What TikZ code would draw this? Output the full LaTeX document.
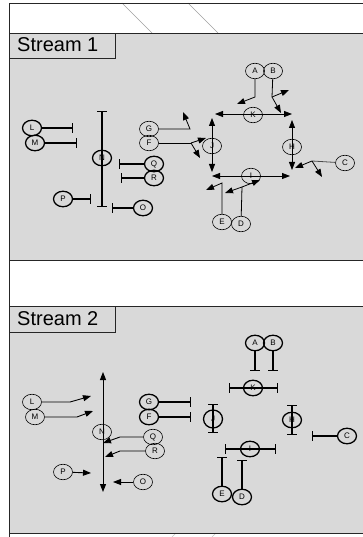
\documentclass[tikz,border=0pt]{standalone}
\usepackage{fontspec}
\setmainfont{Liberation Sans}
\usetikzlibrary{shapes.geometric,arrows.meta}
\definecolor{panel}{HTML}{D9D9D9}
\definecolor{faint}{HTML}{A0A0A0}
\begin{document}
\begin{tikzpicture}[x=1pt,y=-1pt,
 nd/.style={ellipse,draw,minimum width=19pt,minimum height=15.5pt,inner sep=0pt,font=\fontsize{8}{9}\selectfont,line width=0.6pt},
 ndb/.style={nd,line width=1.3pt},
 act/.style={line width=0.8pt,-{Triangle[length=8pt,width=6pt]}},
 thinline/.style={line width=0.8pt},
 dact/.style={line width=0.8pt,{Triangle[length=8pt,width=6pt]}-{Triangle[length=8pt,width=6pt]}},
 inh/.style={line width=1.3pt,-{Bar[width=9.5pt]}},
 dinh/.style={line width=1.3pt,{Bar[width=9.5pt]}-{Bar[width=9.5pt]}},
 frameline/.style={line width=0.9pt,black!85},
 lbl/.style={font=\fontsize{20}{22}\selectfont,anchor=base west,inner sep=0pt}
]
\useasboundingbox (0,0) rectangle (363,537);
% panels
\fill[white] (0,0) rectangle (363,537);
\fill[panel] (9,33) rectangle (363,260);
\fill[panel] (9,306) rectangle (363,533);
\draw[faint,line width=0.6pt] (122,3) -- (152,33);
\draw[faint,line width=0.6pt] (188,3) -- (218,33);
\draw[faint!60,line width=0.5pt] (172,537) -- (176,533);
\draw[faint!60,line width=0.5pt] (212,537) -- (216,533);
\draw[frameline] (363,3) -- (9,3) -- (9,537);
\draw[frameline] (9,33) -- (363,33);
\draw[frameline] (9,260) -- (363,260);
\draw[frameline] (9,306) -- (363,306);
\draw[frameline] (9,533) -- (363,533);
\draw[frameline] (9,33) rectangle (115,58);
\draw[frameline] (9,306) rectangle (115,332);
\node[lbl] (s1) at (17,51.5) {Stream 1};
\node[lbl] (s2) at (17,325) {Stream 2};

% ---------------- Stream 1 ----------------
\node[nd] (A1) at (255,71) {A};
\node[nd] (B1) at (273,71) {B};
\node[nd] (K1) at (253,115) {K};
\node[nd] (J1) at (212,146) {J};
\node[nd] (H1) at (292,147) {H};
\node[nd] (C1) at (345,163) {C};
\node[nd] (I1) at (251,176) {I};
\node[nd] (E1) at (222,222) {E};
\node[nd] (D1) at (241,224) {D};
\node[nd] (G1) at (149,129) {G};
\node[nd] (F1) at (149,143) {F};
\node[ndb] (L1) at (32,128) {L};
\node[ndb] (M1) at (35,143) {M};
\node[ndb] (N1) at (102,158) {N};
\node[ndb] (Q1) at (154,164) {Q};
\node[ndb] (R1) at (154,178) {R};
\node[ndb] (P1) at (63,199) {P};
\node[ndb] (O1) at (143,208) {O};

\coordinate (l1b) at (73,128);
\coordinate (m1b) at (77,143);
\coordinate (n1t) at (102,111);
\coordinate (n1b) at (102,207);
\coordinate (q1b) at (119,164);
\coordinate (r1b) at (121,178);
\coordinate (p1b) at (91,199);
\coordinate (o1b) at (112,208);
\draw[inh] (L1) -- (l1b);
\draw[inh] (M1) -- (m1b);
\draw[dinh] (n1t) -- (n1b);
\draw[inh] (Q1) -- (q1b);
\draw[inh] (R1) -- (r1b);
\draw[inh] (P1) -- (p1b);
\draw[inh] (O1) -- (o1b);

\coordinate (g1j) at (190,129);
\coordinate (g1t) at (183,112);
\draw[act] (G1) -- (g1j) -- (g1t);
\coordinate (f1j) at (191,143);
\coordinate (f1t1) at (206,138);
\coordinate (f1t2) at (200,158);
\draw[thinline] (F1) -- (f1j);
\draw[act] (f1j) -- (f1t1);
\draw[act] (f1j) -- (f1t2);

\coordinate (j1t) at (212,118);
\coordinate (j1b) at (212,172);
\draw[dact] (j1t) -- (j1b);
\coordinate (k1l) at (215,114);
\coordinate (k1r) at (292,114);
\draw[dact] (k1l) -- (k1r);
\coordinate (h1t) at (292,120);
\coordinate (h1b) at (292,170);
\draw[dact] (h1t) -- (h1b);
\coordinate (i1l) at (212,176);
\coordinate (i1r) at (290,176);
\draw[dact] (i1l) -- (i1r);

\coordinate (a1j) at (255,97);
\coordinate (a1t) at (237,104);
\draw[act] (A1) -- (a1j) -- (a1t);
\coordinate (b1j) at (272,97);
\coordinate (b1t1) at (289,90);
\coordinate (b1t2) at (281,113);
\draw[thinline] (B1) -- (b1j);
\draw[act] (b1j) -- (b1t1);
\draw[act] (b1j) -- (b1t2);
\coordinate (c1j) at (312,161);
\coordinate (c1t1) at (295,168);
\coordinate (c1t2) at (322,177);
\draw[thinline,black!70] (C1) -- (c1j);
\draw[act] (c1j) -- (c1t1);
\draw[act] (c1j) -- (c1t2);
\coordinate (e1j) at (222,183);
\coordinate (e1t) at (206,190);
\draw[act] (E1) -- (e1j) -- (e1t);
\coordinate (d1j) at (242,187);
\coordinate (d1t1) at (225,193);
\coordinate (d1t2) at (260,180);
\draw[thinline] (D1) -- (d1j);
\draw[act] (d1j) -- (d1t1);
\draw[act] (d1j) -- (d1t2);

% ---------------- Stream 2 ----------------
\node[ndb] (A2) at (255,343) {A};
\node[ndb] (B2) at (273,343) {B};
\node[ndb] (K2) at (253,388) {K};
\node[ndb,minimum height=18pt] (J2) at (213,419) {J};
\node[ndb] (H2) at (292,420) {H};
\node[ndb] (C2) at (347,436) {C};
\node[ndb] (I2) at (250,449) {I};
\node[ndb] (E2) at (222,494) {E};
\node[ndb] (D2) at (242,497) {D};
\node[ndb] (G2) at (149,402) {G};
\node[ndb] (F2) at (149,417) {F};
\node[nd] (L2) at (32,402) {L};
\node[nd] (M2) at (35,417) {M};
\node[nd] (N2) at (102,432) {N};
\node[nd] (Q2) at (153,437) {Q};
\node[nd] (R2) at (155,451) {R};
\node[nd] (P2) at (63,472) {P};
\node[nd] (O2) at (143,482) {O};

\coordinate (a2b) at (255,371);
\coordinate (b2b) at (273,371);
\draw[inh] (A2) -- (a2b);
\draw[inh] (B2) -- (b2b);
\coordinate (k2l) at (229,388);
\coordinate (k2r) at (278,388);
\draw[dinh] (k2l) -- (k2r);
\coordinate (g2b) at (191,402);
\coordinate (f2b) at (191,417);
\draw[inh] (G2) -- (g2b);
\draw[inh] (F2) -- (f2b);
\coordinate (j2t) at (213,404);
\coordinate (j2b) at (213,433);
\draw[dinh] (j2t) -- (j2b);
\coordinate (h2t) at (292,405);
\coordinate (h2b) at (292,435);
\draw[dinh] (h2t) -- (h2b);
\coordinate (c2b) at (312,436);
\draw[inh] (C2) -- (c2b);
\coordinate (i2l) at (225,449);
\coordinate (i2r) at (276,449);
\draw[dinh] (i2l) -- (i2r);
\coordinate (e2b) at (222,457);
\coordinate (d2b) at (242,460);
\draw[inh] (E2) -- (e2b);
\draw[inh] (D2) -- (d2b);

\coordinate (n2t) at (103,372);
\coordinate (n2b) at (103,492);
\draw[dact,line width=1pt] (n2t) -- (n2b);
\coordinate (l2j) at (70,402);
\coordinate (l2t) at (91,396);
\draw[act,line width=0.9pt] (L2) -- (l2j) -- (l2t);
\coordinate (m2j) at (77,417);
\coordinate (m2t) at (93,411);
\draw[act,line width=0.9pt] (M2) -- (m2j) -- (m2t);
\coordinate (q2j) at (120,437);
\coordinate (q2t) at (103,443);
\draw[act,line width=0.9pt] (Q2) -- (q2j) -- (q2t);
\coordinate (r2j) at (120,451);
\coordinate (r2t) at (105,457);
\draw[act,line width=0.9pt] (R2) -- (r2j) -- (r2t);
\coordinate (p2t) at (91,473);
\draw[act,line width=0.9pt] (P2) -- (p2t);
\coordinate (o2t) at (113,482);
\draw[act,line width=0.9pt] (O2) -- (o2t);
\end{tikzpicture}
\end{document}
